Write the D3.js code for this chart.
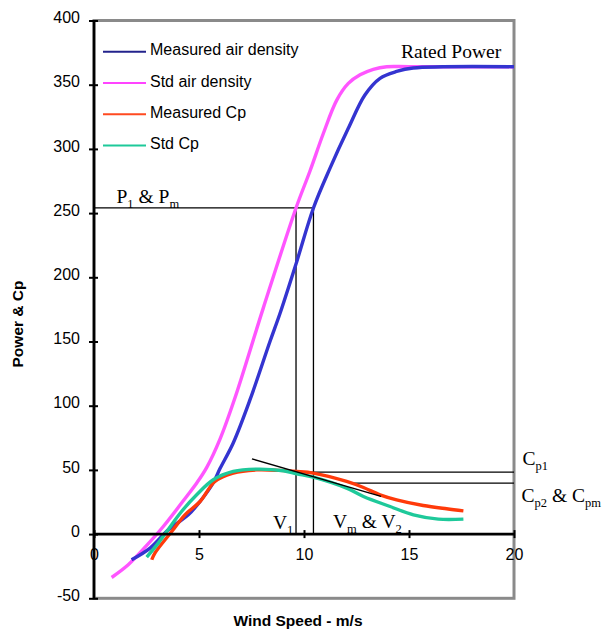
<!DOCTYPE html>
<html><head><meta charset="utf-8">
<script src="https://cdn.jsdelivr.net/npm/d3@7"></script>
<style>body{margin:0;background:#fff}svg{display:block}</style>
</head><body>
<svg id="c" width="603" height="637"></svg>
<script>
// ---- data ----
const xTicks = [0, 5, 10, 15, 20];
const yTicks = [-50, 0, 50, 100, 150, 200, 250, 300, 350, 400];

const stdDensitySpeed = [0.84, 1.63, 2.5, 3.3, 4.41, 4.9, 5.37, 6.0, 6.71, 8.06, 9.62, 10.29, 10.92, 11.56, 12.11, 12.67, 13.3, 13.94, 15, 20];
const stdDensityPower = [-33.8, -23.9, -9, 5.9, 29.3, 40, 52, 74, 106, 176, 254, 283, 312, 338, 351, 357.7, 362, 364, 364, 364];

const measDensitySpeed = [1.79, 2.67, 3.54, 4.49, 5.05, 5.68, 6.0, 6.63, 7.43, 8.38, 8.86, 9.65, 10.45, 11.24, 12.11, 12.9, 13.62, 14.41, 15.2, 20];
const measDensityPower = [-20, -10.9, 3.3, 15, 25.4, 40, 51, 71, 104.7, 150, 172, 212, 254, 285, 316, 342, 355, 360.3, 363, 364];

const measCpSpeed = [2.75, 2.9, 3.7, 4.33, 5.05, 5.76, 6.63, 7.75, 8.86, 9.65, 10.44, 12.03, 12.83, 13.62, 14.41, 15.68, 16.79, 17.59];
const measCpValue = [-20, -14.8, 2, 15, 25.4, 41, 47.5, 50, 49.6, 48.8, 47.5, 41, 36.3, 30.6, 26.7, 22.3, 19.7, 18.1];

const stdCpSpeed = [2.51, 3.06, 3.46, 4.17, 4.89, 5.68, 6.63, 7.75, 9.02, 9.65, 10.44, 12.03, 12.83, 14.1, 15.21, 16.4, 17.59];
const stdCpValue = [-17.9, -7, 2, 17.6, 30.6, 42.3, 48.8, 50.6, 49.3, 47, 44.4, 35.8, 29.3, 21.5, 15, 11.7, 11.7];

const legendLabels = ["Measured air density", "Std air density", "Measured Cp", "Std Cp"];

// construction lines (data units)
const p1Level = 254;
const v1Speed = 9.62, vmSpeed = 10.45;
const cp1Level = 48.3, cp2Level = 39.7, cp2Start = 12.3;
const tangentSpeed = [7.52, 13.67];
const tangentValue = [58.6, 29.3];

// ---- drawing ----
const svg = d3.select("#c");
const x = d3.scaleLinear().domain([0, 20]).range([94, 514]);
const y = d3.scaleLinear().domain([-50, 400]).range([598.3, 20.5]);

// frame
svg.append("rect").attr("x", x(0)).attr("y", y(400)).attr("width", x(20) - x(0)).attr("height", y(-50) - y(400))
  .attr("fill", "none").attr("stroke", "#8a8a8a").attr("stroke-width", 3);

const sans = "'Liberation Sans', Arial, sans-serif";
const serif = "'Liberation Serif', 'Times New Roman', serif";

// reference lines
const ref = svg.append("g").attr("stroke", "#000").attr("stroke-width", 1.3).attr("fill", "none");
ref.append("line").attr("x1", x(0)).attr("x2", x(vmSpeed)).attr("y1", y(p1Level)).attr("y2", y(p1Level));
ref.append("line").attr("x1", x(v1Speed)).attr("x2", x(v1Speed)).attr("y1", y(p1Level)).attr("y2", y(0));
ref.append("line").attr("x1", x(vmSpeed)).attr("x2", x(vmSpeed)).attr("y1", y(p1Level)).attr("y2", y(0));
ref.append("line").attr("x1", x(v1Speed)).attr("x2", x(20)).attr("y1", y(cp1Level)).attr("y2", y(cp1Level));
ref.append("line").attr("x1", x(cp2Start)).attr("x2", x(20)).attr("y1", y(cp2Level)).attr("y2", y(cp2Level));

// series
const series = [
  {sx: measDensitySpeed, sy: measDensityPower, color: "#3434d0", leg: "#23238c"},
  {sx: stdDensitySpeed, sy: stdDensityPower, color: "#ff55ff", leg: "#ff44ff"},
  {sx: measCpSpeed, sy: measCpValue, color: "#ff3a0a", leg: "#ff4a20"},
  {sx: stdCpSpeed, sy: stdCpValue, color: "#1ec99a", leg: "#1ec99a"}
];
const drawOrder = [1, 0, 2, 3];
drawOrder.forEach(i => {
  const s = series[i];
  const pts = s.sx.map((v, k) => [v, s.sy[k]]);
  svg.append("path").datum(pts)
    .attr("fill", "none").attr("stroke", s.color).attr("stroke-width", 3.4).attr("stroke-linejoin", "round")
    .attr("d", d3.line().x(d => x(d[0])).y(d => y(d[1])).curve(d3.curveCatmullRom.alpha(0.5)));
});

// tangent line
svg.append("line").attr("x1", x(tangentSpeed[0])).attr("y1", y(tangentValue[0]))
  .attr("x2", x(tangentSpeed[1])).attr("y2", y(tangentValue[1]))
  .attr("stroke", "#000").attr("stroke-width", 1.3);

// axes
const fmt = d => String(d);
const yAxis = svg.append("g").attr("transform", `translate(${x(0)},0)`)
  .call(d3.axisLeft(y).tickValues(yTicks).tickFormat(fmt).tickSize(5));
yAxis.select(".domain").remove();
yAxis.selectAll(".tick line").attr("x1", -5).attr("x2", 4).attr("stroke", "#000").attr("stroke-width", 2);
yAxis.selectAll(".tick text").attr("x", -14).attr("dy", "0.32em").attr("y", -3)
  .attr("font-family", sans).attr("font-size", 16).attr("fill", "#000");
svg.append("line").attr("x1", x(0)).attr("x2", x(0)).attr("y1", y(400)).attr("y2", y(-50))
  .attr("stroke", "#000").attr("stroke-width", 2.6);

const xAxis = svg.append("g").attr("transform", `translate(0,${y(0)})`)
  .call(d3.axisBottom(x).tickValues(xTicks).tickFormat(fmt).tickSize(4));
xAxis.select(".domain").remove();
xAxis.selectAll(".tick line").attr("y1", -4).attr("y2", 4).attr("stroke", "#000").attr("stroke-width", 2);
xAxis.selectAll(".tick text").attr("y", 25.5).attr("dy", "0")
  .attr("font-family", sans).attr("font-size", 16).attr("fill", "#000");
svg.append("line").attr("x1", x(0)).attr("x2", x(20)).attr("y1", y(0)).attr("y2", y(0))
  .attr("stroke", "#000").attr("stroke-width", 2.6);

// axis titles
svg.append("text").attr("x", 298).attr("y", 626).attr("text-anchor", "middle")
  .attr("font-family", sans).attr("font-weight", "bold").attr("font-size", 15.5).text("Wind Speed - m/s");
svg.append("text").attr("transform", "translate(23,324) rotate(-90)").attr("text-anchor", "middle")
  .attr("font-family", sans).attr("font-weight", "bold").attr("font-size", 15.5).text("Power & Cp");

// legend
const leg = svg.append("g");
legendLabels.forEach((lab, i) => {
  const yy = 51.7 + i * 31.3;
  leg.append("line").attr("x1", 103).attr("x2", 146).attr("y1", yy).attr("y2", yy)
    .attr("stroke", series[i].leg).attr("stroke-width", 2);
  leg.append("text").attr("x", 150).attr("y", yy + 3.6).attr("font-family", sans).attr("font-size", 16)
    .attr("fill", "#000").text(lab);
});

// annotations (serif with subscripts)
function ann(px, py, parts) {
  const t = svg.append("text").attr("x", px).attr("y", py).attr("font-family", serif).attr("font-size", 19.5).attr("fill", "#000");
  parts.forEach(p => {
    const sp = t.append("tspan").text(p.t);
    if (p.sub) sp.attr("font-size", 12.5).attr("dy", 5);
    else if (p.back) sp.attr("dy", -5);
  });
}
ann(401, 58.3, [{t: "Rated Power"}]);
ann(116.5, 202.7, [{t: "P"}, {t: "1", sub: true}, {t: " & P", back: true}, {t: "m", sub: true}]);
ann(273, 529, [{t: "V"}, {t: "1", sub: true}]);
ann(333, 528, [{t: "V"}, {t: "m", sub: true}, {t: " & V", back: true}, {t: "2", sub: true}]);
ann(522.5, 465, [{t: "C"}, {t: "p1", sub: true}]);
ann(521.5, 501.5, [{t: "C"}, {t: "p2", sub: true}, {t: " & C", back: true}, {t: "pm", sub: true}]);
</script>
</body></html>
